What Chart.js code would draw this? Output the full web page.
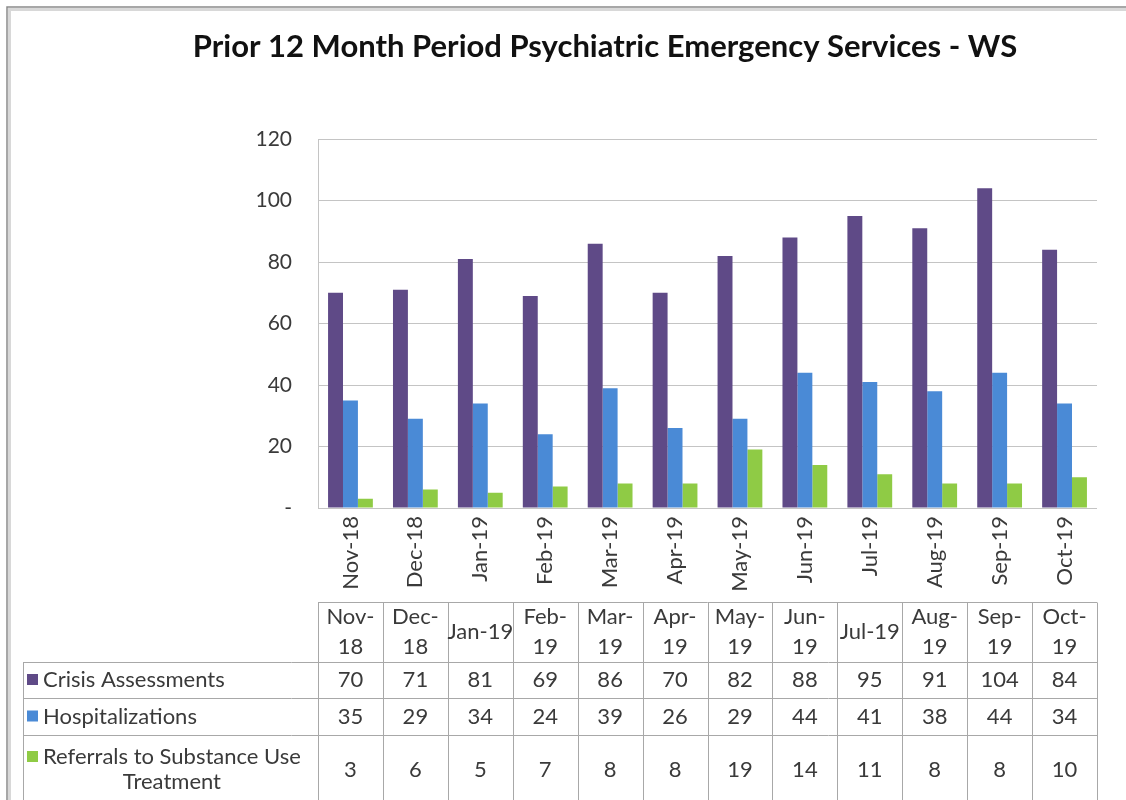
<!DOCTYPE html>
<html>
<head>
<meta charset="utf-8">
<script src="https://cdn.jsdelivr.net/npm/chart.js@4.4.1/dist/chart.umd.min.js"></script>
<style>
  html, body { margin: 0; padding: 0; background: #fff; }
  #wrap { width: 1126px; height: 800px; position: relative; }
</style>
</head>
<body>
<div id="wrap"><canvas id="pesChart"></canvas></div>
<script>
// chart data
const months = ['Nov-18', 'Dec-18', 'Jan-19', 'Feb-19', 'Mar-19', 'Apr-19',
                'May-19', 'Jun-19', 'Jul-19', 'Aug-19', 'Sep-19', 'Oct-19'];
// table header text as Excel wrapped it
const tableHeads = [['Nov-', '18'], ['Dec-', '18'], ['Jan-19'], ['Feb-', '19'], ['Mar-', '19'], ['Apr-', '19'],
                    ['May-', '19'], ['Jun-', '19'], ['Jul-19'], ['Aug-', '19'], ['Sep-', '19'], ['Oct-', '19']];
const crisisAssessments = [70, 71, 81, 69, 86, 70, 82, 88, 95, 91, 104, 84];
const hospitalizations = [35, 29, 34, 24, 39, 26, 29, 44, 41, 38, 44, 34];
const referrals = [3, 6, 5, 7, 8, 8, 19, 14, 11, 8, 8, 10];
const seriesNames = ['Crisis Assessments', 'Hospitalizations', 'Referrals to Substance Use Treatment'];
const seriesLabelLines = [['Crisis Assessments'], ['Hospitalizations'], ['Referrals to Substance Use', 'Treatment']];
const seriesColors = ['#5f4a87', '#4a8ad6', '#8fcb45'];

const FONT = 'Lato, "Liberation Sans", sans-serif';
const LINE = '#a8a8a8';
const TEXT = '#3a3a3a';

// frame around the whole sheet object
const framePlugin = {
    id: 'frame',
    beforeDraw(chart) {
        const ctx = chart.ctx;
        ctx.save();
        ctx.fillStyle = '#fff';
        ctx.fillRect(0, 0, chart.width, chart.height);
        ctx.strokeStyle = '#d8d8d8';
        ctx.lineWidth = 3;
        ctx.beginPath();
        ctx.moveTo(9.5, chart.height);
        ctx.lineTo(9.5, 9.5);
        ctx.lineTo(chart.width, 9.5);
        ctx.stroke();
        ctx.strokeStyle = '#8a8a8a';
        ctx.lineWidth = 1.5;
        ctx.beginPath();
        ctx.moveTo(7, chart.height);
        ctx.lineTo(7, 7);
        ctx.lineTo(chart.width, 7);
        ctx.stroke();
        ctx.restore();
    }
};

// data table under the x axis, columns taken from the x scale
const tablePlugin = {
    id: 'dataTable',
    afterDraw(chart) {
        const ctx = chart.ctx;
        const x = chart.scales.x;
        const n = months.length;
        const colW = (x.right - x.left) / n;
        const tableLeft = 23;
        const headTop = x.bottom;
        const rowEdges = [headTop + 60, headTop + 96, headTop + 133, chart.height + 5];

        ctx.save();
        ctx.strokeStyle = LINE;
        ctx.lineWidth = 1;
        // vertical column lines
        for (let i = 0; i <= n; i++) {
            const px = Math.round(x.left + i * colW) + 0.5;
            ctx.beginPath();
            ctx.moveTo(px, headTop + 0.5);
            ctx.lineTo(px, chart.height);
            ctx.stroke();
        }
        // header top
        ctx.beginPath();
        ctx.moveTo(x.left, headTop + 0.5);
        ctx.lineTo(x.right, headTop + 0.5);
        ctx.stroke();
        // row lines
        for (let r = 0; r < 3; r++) {
            const py = Math.round(rowEdges[r]) + 0.5;
            ctx.beginPath();
            ctx.moveTo(tableLeft, py);
            ctx.lineTo(x.right, py);
            ctx.stroke();
        }
        ctx.beginPath();
        ctx.moveTo(tableLeft + 0.5, rowEdges[0]);
        ctx.lineTo(tableLeft + 0.5, chart.height);
        ctx.stroke();

        ctx.fillStyle = TEXT;
        ctx.font = '22px ' + FONT;
        ctx.textAlign = 'center';
        ctx.textBaseline = 'middle';
        // header cells
        tableHeads.forEach((lines, i) => {
            const cx = x.getPixelForValue(i);
            const cy = (headTop + rowEdges[0]) / 2;
            if (lines.length === 1) {
                ctx.fillText(lines[0], cx, cy);
            } else {
                ctx.fillText(lines[0], cx, cy - 15);
                ctx.fillText(lines[1], cx, cy + 15);
            }
        });
        // value rows
        const rows = [crisisAssessments, hospitalizations, referrals];
        const rowMid = [(rowEdges[0] + rowEdges[1]) / 2, (rowEdges[1] + rowEdges[2]) / 2, rowEdges[2] + 35];
        rows.forEach((vals, r) => {
            vals.forEach((v, i) => {
                ctx.fillText(String(v), x.getPixelForValue(i), rowMid[r]);
            });
            // legend key and series name
            const lines = seriesLabelLines[r];
            const ty = lines.length === 1 ? rowMid[r] : rowMid[r] - 13;
            ctx.fillStyle = seriesColors[r];
            ctx.fillRect(tableLeft + 4, ty - 6, 11, 11);
            ctx.fillStyle = TEXT;
            ctx.textAlign = 'left';
            ctx.fillText(lines[0], tableLeft + 20, ty);
            if (lines.length > 1) {
                ctx.textAlign = 'center';
                const w = ctx.measureText(lines[0]).width;
                ctx.fillText(lines[1], tableLeft + 20 + w / 2, ty + 25);
            }
            ctx.textAlign = 'center';
        });
        ctx.restore();
    }
};

const ctx = document.getElementById('pesChart').getContext('2d');
new Chart(ctx, {
    type: 'bar',
    data: {
        labels: months,
        datasets: [
            { label: seriesNames[0], data: crisisAssessments, backgroundColor: seriesColors[0] },
            { label: seriesNames[1], data: hospitalizations, backgroundColor: seriesColors[1] },
            { label: seriesNames[2], data: referrals, backgroundColor: seriesColors[2] }
        ]
    },
    options: {
        responsive: true,
        maintainAspectRatio: false,
        animation: false,
        datasets: { bar: { barPercentage: 1, categoryPercentage: 0.69 } },
        layout: { padding: { left: 113, right: 29, top: 0, bottom: 198 } },
        plugins: {
            legend: { display: false },
            tooltip: { enabled: false },
            title: {
                display: true,
                text: 'Prior 12 Month Period Psychiatric Emergency Services - WS',
                color: '#111',
                font: { family: FONT, size: 31, weight: 'bold' },
                padding: { top: 28, bottom: 74 }
            }
        },
        scales: {
            x: {
                grid: { display: false, drawTicks: false },
                border: { display: false },
                ticks: {
                    minRotation: 90,
                    maxRotation: 90,
                    padding: 8,
                    color: TEXT,
                    font: { family: FONT, size: 22 }
                },
                afterFit(scale) { scale.height = 94; }
            },
            y: {
                min: 0,
                max: 120,
                grid: { color: '#c4c4c4', drawTicks: false },
                border: { display: true, color: '#c4c4c4' },
                ticks: {
                    stepSize: 20,
                    padding: 26,
                    color: TEXT,
                    font: { family: FONT, size: 21 },
                    callback: (v) => (v === 0 ? '-' : v)
                },
                afterFit(scale) { scale.width = 205; }
            }
        }
    },
    plugins: [framePlugin, tablePlugin]
});
</script>
</body>
</html>
